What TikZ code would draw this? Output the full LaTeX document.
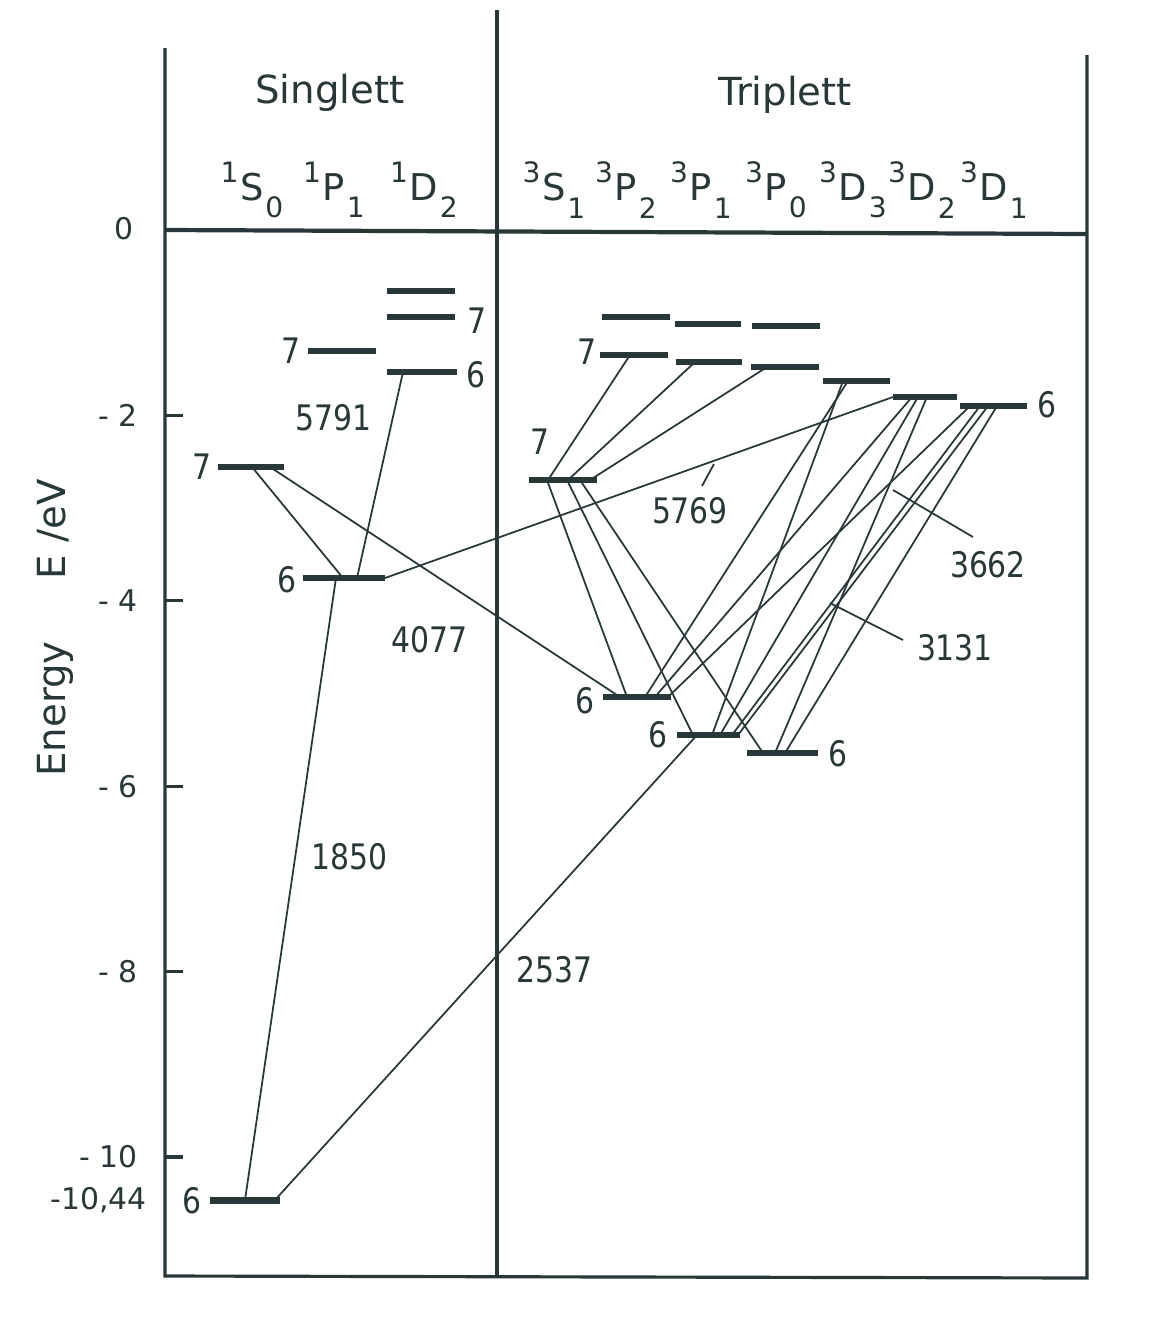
\documentclass[tikz,border=0pt]{standalone}
\usepackage{fontspec}
\setmainfont{DejaVu Sans}
\newfontfamily\condfont[FakeStretch=0.85]{DejaVu Sans}
\usetikzlibrary{calc}
\definecolor{ink}{RGB}{40,55,55}
% term symbol: multiplicity, letter, J
\newcommand{\trm}[3]{\raisebox{10pt}{\fontsize{16}{16}\selectfont#1}\kern1pt#2\kern1pt\raisebox{-10pt}{\fontsize{16}{16}\selectfont#3}}
\tikzset{
  bar/.style={rectangle, fill=ink, inner sep=0pt, minimum height=3pt, minimum width=1.36cm},
  trans/.style={draw=ink, line width=1pt},
  frame/.style={draw=ink, line width=1.8pt},
  num/.style={font=\condfont\fontsize{20}{20}\selectfont, text=ink, inner sep=0pt},
  lvl/.style={font=\condfont\fontsize{20}{20}\selectfont, text=ink, inner sep=0pt},
  tick/.style={font=\fontsize{17}{17}\selectfont, text=ink, inner sep=0pt, anchor=east},
  term/.style={font=\fontsize{21}{21}\selectfont, text=ink, inner sep=0pt},
  head/.style={font=\fontsize{22}{22}\selectfont, text=ink, inner sep=0pt}
}
\begin{document}
\begin{tikzpicture}[x=0.02cm, y=-0.02cm]
\useasboundingbox (0,0) rectangle (1164,1329);
% frame and zero line
\draw[frame] (165,48) -- (165,1276) -- (1087,1278) -- (1087,55);
\draw[frame] (497,10) -- (497,1278);
\draw[ink, line width=2.4pt] (165,230) -- (1087,234);
\node[tick] (e0) at (134,229) {0};
\foreach \e/\t in {2/- 2,4/- 4,6/- 6,8/- 8,10/- 10}{
  \draw[frame] (165,{230+92.7*\e}) -- ++(18,0);
  \node[tick] (e\e) at (138,{230+92.7*\e}) {\t};
}
\node[tick] (e1044) at (147,1200) {-10,44};
\node[font=\fontsize{22}{22}\selectfont, text=ink, rotate=90] (axis) at (55,628) {Energy\hspace{1.6em}E /eV};
% headers
\node[head] (hsing) at (330,93) {Singlett};
\node[head] (htrip) at (785,95) {Triplett};
\node[term] (tS0) at (252,190) {\trm{1}{S}{0}};
\node[term] (tP1) at (334,190) {\trm{1}{P}{1}};
\node[term] (tD2) at (424,190) {\trm{1}{D}{2}};
\node[term] (tS1) at (554,190) {\trm{3}{S}{1}};
\node[term] (tP2) at (626,190) {\trm{3}{P}{2}};
\node[term] (tP1t) at (701,190) {\trm{3}{P}{1}};
\node[term] (tP0) at (776,190) {\trm{3}{P}{0}};
\node[term] (tD3) at (853,190) {\trm{3}{D}{3}};
\node[term] (tD2t) at (922,190) {\trm{3}{D}{2}};
\node[term] (tD1) at (994,190) {\trm{3}{D}{1}};
% singlet levels
\node[bar, minimum width=1.4cm, minimum height=4pt] (S0n6) at (245,1200) {};
\node[bar, minimum width=1.34cm] (S0n7) at (251,467) {};
\node[bar, minimum width=1.64cm, minimum height=3.4pt] (P1n6) at (344,578) {};
\node[bar, minimum width=1.38cm] (P1n7) at (342,351) {};
\node[bar, minimum width=1.4cm] (D2n6) at (422,372) {};
\node[bar] (D2n7) at (421,317) {};
\node[bar] (D2n8) at (421,291) {};
\node[lvl] (l1) at (192,1201) {6};
\node[lvl] (l2) at (202,467) {7};
\node[lvl] (l3) at (287,580) {6};
\node[lvl] (l4) at (291,351) {7};
\node[lvl] (l5) at (476,375) {6};
\node[lvl] (l6) at (477,321) {7};
% triplet levels
\node[bar] (tS1n7) at (563,480) {};
\node[bar] (tP2n8) at (636,317) {};
\node[bar] (tP2n7) at (634,355) {};
\node[bar] (tP2n6) at (637,697) {};
\node[bar, minimum width=1.32cm] (tP1n8) at (708,324) {};
\node[bar, minimum width=1.32cm] (tP1n7) at (709,362) {};
\node[bar, minimum width=1.26cm] (tP1n6) at (708,735) {};
\node[bar] (tP0n8) at (786,326) {};
\node[bar] (tP0n7) at (785,367) {};
\node[bar, minimum width=1.42cm] (tP0n6) at (782,753) {};
\node[bar, minimum width=1.34cm] (tD3n6) at (856,381) {};
\node[bar, minimum width=1.28cm] (tD2n6) at (925,397) {};
\node[bar, minimum width=1.34cm] (tD1n6) at (993,406) {};
\node[lvl] (l7) at (540,442) {7};
\node[lvl] (l8) at (587,352) {7};
\node[lvl] (l9) at (585,701) {6};
\node[lvl] (l10) at (658,735) {6};
\node[lvl] (l11) at (838,754) {6};
\node[lvl] (l12) at (1047,405) {6};
% singlet transitions
\draw[trans] ($(S0n6)+(0,0)$) -- ($(P1n6)+(-8,0)$);
\draw[trans] ($(S0n6)+(30,0)$) -- ($(tP1n6)+(-11,0)$);
\draw[trans] ($(S0n7)+(1,0)$) -- ($(P1n6)+(-1,0)$);
\draw[trans] ($(S0n7)+(19,0)$) -- ($(tP2n6)+(-17,0)$);
\draw[trans] ($(P1n6)+(13,0)$) -- ($(D2n6)+(-19,0)$);
\draw[trans] ($(P1n6)+(41,0)$) -- ($(tD2n6)+(-32,0)$);
% triplet transitions
\draw[trans] ($(tS1n7)+(-15,0)$) -- ($(tP2n7)+(-4,0)$);
\draw[trans] ($(tS1n7)+(5,0)$) -- ($(tP1n7)+(-14,0)$);
\draw[trans] ($(tS1n7)+(27,0)$) -- ($(tP0n7)+(-18,0)$);
\draw[trans] ($(tS1n7)+(-16,0)$) -- ($(tP2n6)+(-10,0)$);
\draw[trans] ($(tS1n7)+(4,0)$) -- ($(tP1n6)+(-15,0)$);
\draw[trans] ($(tS1n7)+(17,0)$) -- ($(tP0n6)+(-19,0)$);
\draw[trans] ($(tP2n6)+(8,0)$) -- ($(tD3n6)+(-8,0)$);
\draw[trans] ($(tP1n6)+(4,0)$) -- ($(tD3n6)+(-13,0)$);
\draw[trans] ($(tP2n6)+(18,0)$) -- ($(tD2n6)+(-13,0)$);
\draw[trans] ($(tP1n6)+(12,0)$) -- ($(tD2n6)+(-7,0)$);
\draw[trans] ($(tP0n6)+(-7,0)$) -- ($(tD2n6)+(2,0)$);
\draw[trans] ($(tP2n6)+(31,0)$) -- ($(tD1n6)+(-23,0)$);
\draw[trans] ($(tP1n6)+(24,0)$) -- ($(tD1n6)+(-13,0)$);
\draw[trans] ($(tP1n6)+(30,0)$) -- ($(tD1n6)+(-5,0)$);
\draw[trans] ($(tP0n6)+(3,0)$) -- ($(tD1n6)+(4,0)$);
% wavelengths
\node[num] (w5791) at (334,418) {5791};
\node[num] (w4077) at (430,640) {4077};
\node[num] (w1850) at (350,857) {1850};
\node[num] (w2537) at (555,970) {2537};
\node[num] (w5769) at (690,511) {5769};
\node[num] (w3662) at (988,565) {3662};
\node[num] (w3131) at (955,648) {3131};
\coordinate (k5769) at (714,464);
\coordinate (k3662) at (893,490);
\coordinate (k3131) at (830,603);
\draw[trans] (702,486) -- (k5769);
\draw[trans] (973,537) -- (k3662);
\draw[trans] (903,640) -- (k3131);
\end{tikzpicture}
\end{document}
